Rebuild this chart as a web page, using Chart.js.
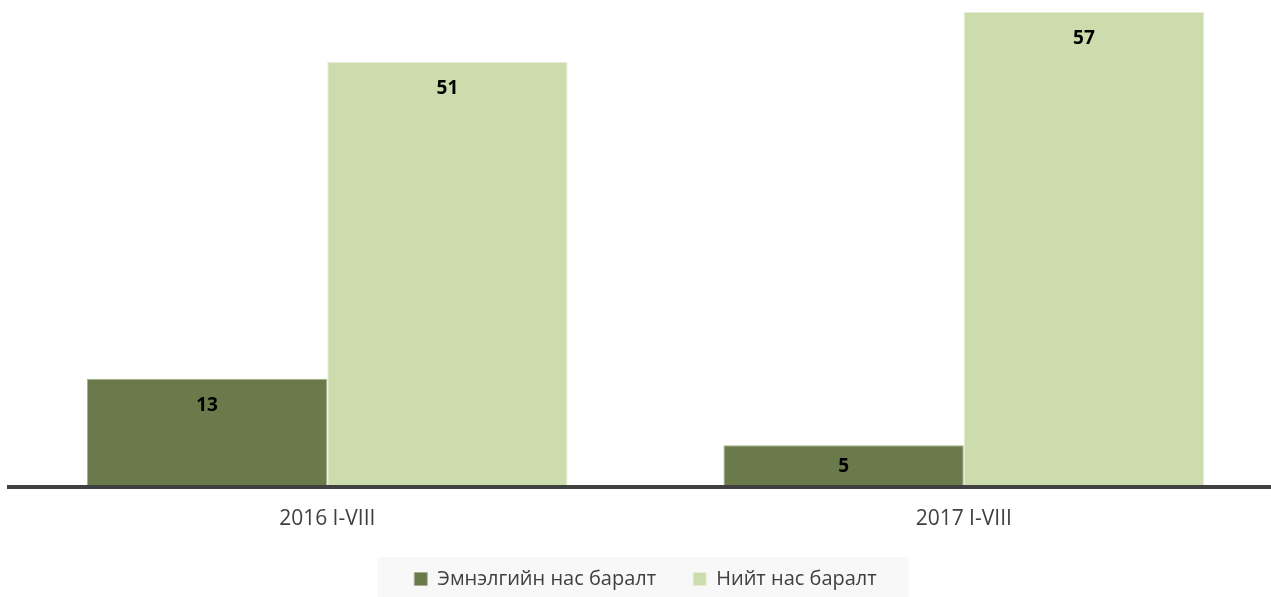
<!DOCTYPE html>
<html>
<head>
<meta charset="utf-8">
<script src="https://cdn.jsdelivr.net/npm/chart.js@4.4.0/dist/chart.umd.min.js"></script>
<style>
    html, body { margin: 0; padding: 0; background: #fff; overflow: hidden; }
    #wrap { position: relative; width: 1282px; height: 597px; overflow: hidden; }
</style>
</head>
<body>
<div id="wrap"><canvas id="BarChart"></canvas></div>
<script>
// chart data
const categories = ['2016 I-VIII', '2017 I-VIII'];
const seriesNames = ['Эмнэлгийн нас баралт', 'Нийт нас баралт'];
const hospitalDeaths = [13, 5];
const totalDeaths = [51, 57];

const FONT = "'Open Sans', 'DejaVu Sans', sans-serif";
const TEXT_COLOR = '#404040';

// labels inside each bar, just below its top
const valueLabels = {
    id: 'valueLabels',
    afterDatasetsDraw: function (chart) {
        const ctx = chart.ctx;
        ctx.save();
        ctx.font = 'bold 19px ' + FONT;
        ctx.fillStyle = '#000';
        ctx.textAlign = 'center';
        ctx.textBaseline = 'middle';
        chart.data.datasets.forEach(function (ds, i) {
            chart.getDatasetMeta(i).data.forEach(function (bar, j) {
                var y = Math.min(bar.y + 27, (bar.y + bar.base) / 2);
                ctx.fillText(ds.data[j], bar.x, y);
            });
        });
        ctx.restore();
    }
};

// light grey panel behind the legend
const legendPanel = {
    id: 'legendPanel',
    beforeDraw: function (chart) {
        const lg = chart.legend;
        if (!lg || !lg.legendHitBoxes.length) return;
        var boxes = lg.legendHitBoxes;
        var left = Math.min.apply(null, boxes.map(b => b.left)) - 37;
        var right = Math.max.apply(null, boxes.map(b => b.left + b.width)) + 32;
        var top = boxes[0].top + boxes[0].height / 2 - 22;
        var ctx = chart.ctx;
        ctx.save();
        ctx.fillStyle = '#f8f8f8';
        ctx.fillRect(left, top, right - left, chart.height - top);
        ctx.restore();
    }
};

const data = {
    labels: categories,
    datasets: [{
        label: seriesNames[0],
        data: hospitalDeaths,
        backgroundColor: '#6a7a4a',
        borderColor: '#a6b28f',
        borderWidth: 1
    }, {
        label: seriesNames[1],
        data: totalDeaths,
        backgroundColor: '#cddcac',
        borderColor: '#e5edd6',
        borderWidth: 1
    }]
};

const config = {
    type: 'bar',
    data: data,
    plugins: [legendPanel, valueLabels],
    options: {
        responsive: false,
        animation: false,
        barPercentage: 1,
        categoryPercentage: 0.755,
        layout: { padding: { top: 12, left: 9, right: 0, bottom: 0 } },
        scales: {
            y: {
                display: false,
                min: 0,
                max: 57
            },
            x: {
                grid: { display: false },
                border: { display: true, color: '#404040', width: 4, z: 1 },
                ticks: {
                    color: TEXT_COLOR,
                    font: { family: FONT, size: 21 },
                    padding: 11
                },
                afterFit: function (scale) {
                    scale.height = 45;
                }
            }
        },
        plugins: {
            legend: {
                position: 'bottom',
                labels: {
                    color: TEXT_COLOR,
                    font: { family: FONT, size: 20 },
                    boxWidth: 13,
                    boxHeight: 13,
                    padding: 37
                }
            },
            tooltip: { enabled: false }
        }
    }
};

const canvas = document.getElementById('BarChart');
canvas.width = 1282;
canvas.height = 599;
const myChart = new Chart(canvas.getContext('2d'), config);
</script>
</body>
</html>
